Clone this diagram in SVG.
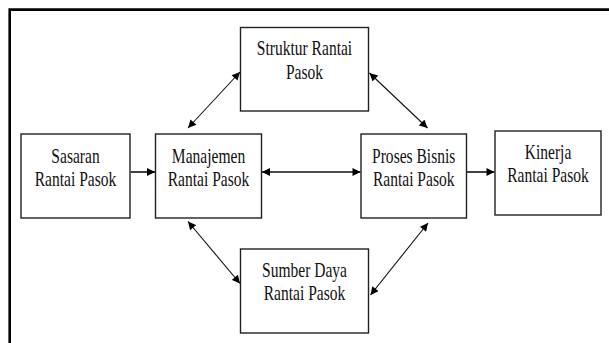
<svg xmlns="http://www.w3.org/2000/svg" width="609" height="343" viewBox="0 0 609 343">
<defs>
<marker id="ah" viewBox="0 0 10 10" refX="10" refY="5" markerWidth="9" markerHeight="8" markerUnits="userSpaceOnUse" orient="auto-start-reverse">
<path d="M0,0 L10,5 L0,10 z" fill="#000"/>
</marker>
<style>
.box{fill:#fff;stroke:#222;stroke-width:1.4}
.t{font-family:"Liberation Serif","Times New Roman",serif;font-size:21px;fill:#111;text-anchor:middle}
.c{fill:none;stroke:#111;stroke-width:1.1}
.h{stroke-width:1.6}
</style>
</defs>
<rect width="609" height="343" fill="#fff"/>
<path d="M9.7,343 V9.6 H609" fill="none" stroke="#000" stroke-width="2.6"/>
<g id="connectors">
<line class="c h" x1="130.5" y1="172" x2="155" y2="172" marker-end="url(#ah)"/>
<line class="c h" x1="262" y1="172" x2="360.5" y2="172" marker-start="url(#ah)" marker-end="url(#ah)"/>
<line class="c h" x1="467" y1="172" x2="494.5" y2="172" marker-end="url(#ah)"/>
<line class="c" x1="188" y1="128" x2="240" y2="72" marker-start="url(#ah)" marker-end="url(#ah)"/>
<line class="c" x1="369.5" y1="73" x2="427.5" y2="128" marker-start="url(#ah)" marker-end="url(#ah)"/>
<line class="c" x1="188" y1="221.5" x2="240" y2="283.5" marker-start="url(#ah)" marker-end="url(#ah)"/>
<line class="c" x1="428" y1="223" x2="370.5" y2="295" marker-start="url(#ah)" marker-end="url(#ah)"/>
</g>
<g id="sasaran">
<rect class="box" x="21" y="134" width="109" height="84"/>
<text class="t" transform="translate(75.5,163.3) scale(0.74,1)">Sasaran</text>
<text class="t" transform="translate(75.5,186.3) scale(0.74,1)">Rantai Pasok</text>
</g>
<g id="manajemen">
<rect class="box" x="155.5" y="134" width="106" height="84"/>
<text class="t" transform="translate(208.5,163.3) scale(0.74,1)">Manajemen</text>
<text class="t" transform="translate(208.5,186.3) scale(0.74,1)">Rantai Pasok</text>
</g>
<g id="proses">
<rect class="box" x="361" y="134" width="105.5" height="84"/>
<text class="t" transform="translate(413.7,163) scale(0.74,1)">Proses Bisnis</text>
<text class="t" transform="translate(413.7,186.3) scale(0.74,1)">Rantai Pasok</text>
</g>
<g id="kinerja">
<rect class="box" x="495" y="131" width="106" height="84"/>
<text class="t" transform="translate(548,158.5) scale(0.74,1)">Kinerja</text>
<text class="t" transform="translate(548,182) scale(0.74,1)">Rantai Pasok</text>
</g>
<g id="struktur">
<rect class="box" x="240.5" y="27.5" width="128" height="83.5"/>
<text class="t" transform="translate(304.5,55) scale(0.74,1)">Struktur Rantai</text>
<text class="t" transform="translate(304.5,78.5) scale(0.74,1)">Pasok</text>
</g>
<g id="sumber">
<rect class="box" x="240.5" y="249" width="128" height="84"/>
<text class="t" transform="translate(304.5,277) scale(0.74,1)">Sumber Daya</text>
<text class="t" transform="translate(304.5,300.3) scale(0.74,1)">Rantai Pasok</text>
</g>
</svg>
